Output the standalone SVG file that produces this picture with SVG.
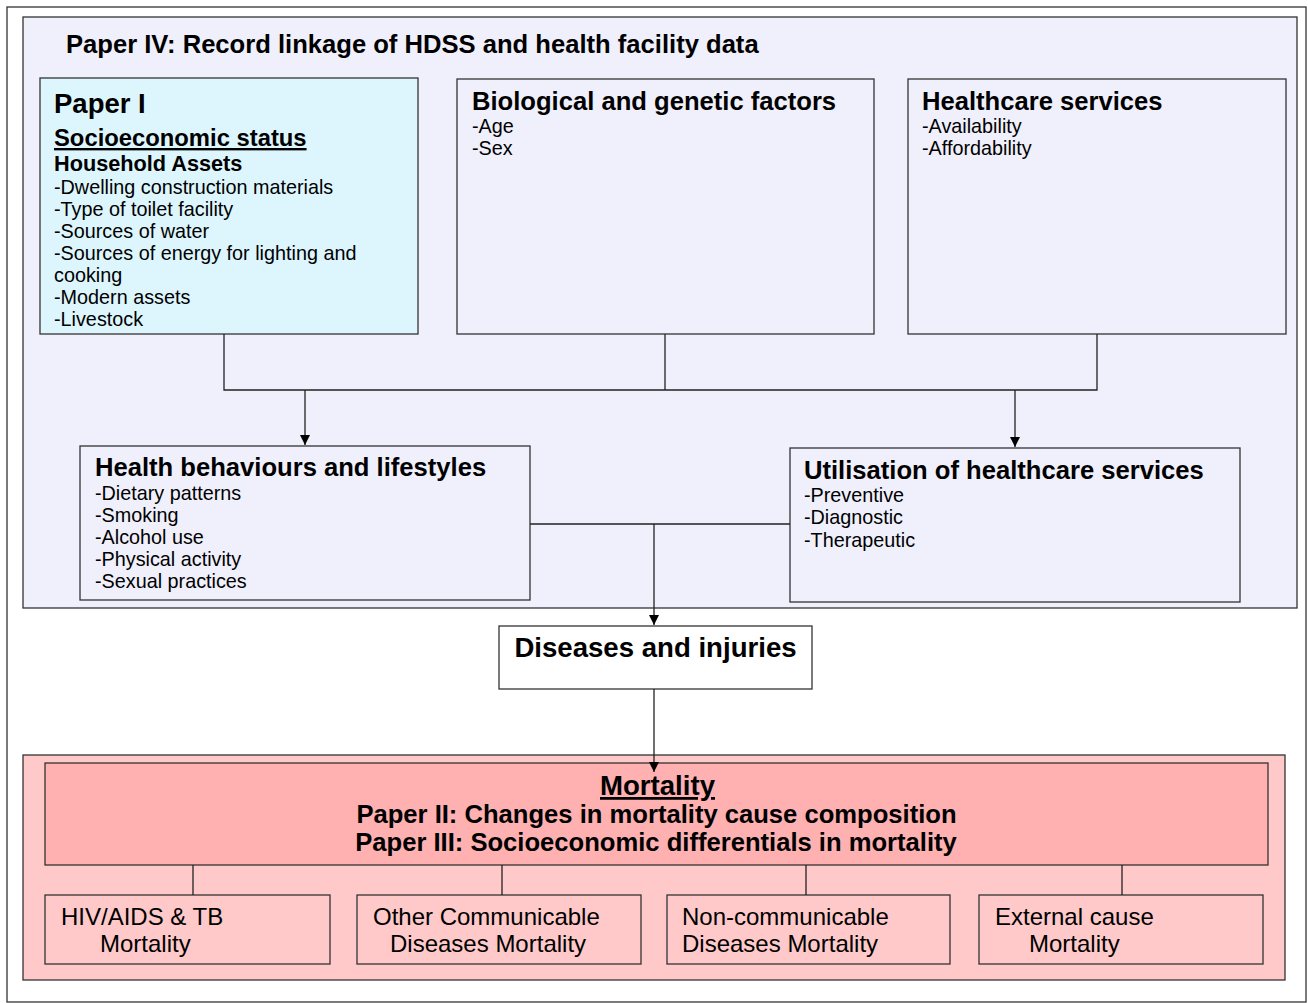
<svg xmlns="http://www.w3.org/2000/svg" width="1308" height="1003" viewBox="0 0 1308 1003">
<style>
.box{stroke:#333;stroke-width:1.3}
.t{font-family:"Liberation Sans",Arial,sans-serif;fill:#000}
.h{font-weight:bold;font-size:25.6px}
.b{font-size:19.8px}
.s{font-size:24px}
.c{fill:none;stroke:#222;stroke-width:1.3}
</style>
<defs>
<marker id="arr" viewBox="0 0 10 10" refX="10" refY="5" markerWidth="10" markerHeight="10" markerUnits="userSpaceOnUse" orient="auto">
<path d="M0,0 L10,5 L0,10 Z" fill="#000"/>
</marker>
</defs>
<rect x="0" y="0" width="1308" height="1003" fill="#fff"/>
<rect x="7" y="7" width="1299" height="995" fill="#fff" stroke="#333" stroke-width="1.3"/>

<g id="container-paper4">
<rect class="box" x="23" y="17" width="1274" height="591" fill="#F0F0FC"/>
<text class="t h" x="66" y="53">Paper IV: Record linkage of HDSS and health facility data</text>
</g>

<g id="node-paper1">
<rect class="box" x="40" y="78" width="378" height="256" fill="#DDF6FE"/>
<text class="t" x="54" y="113" font-weight="bold" font-size="27.5px">Paper I</text>
<text class="t" x="54" y="146" font-weight="bold" font-size="23.8px" text-decoration="underline">Socioeconomic status</text>
<text class="t" x="54" y="171" font-weight="bold" font-size="21.7px">Household Assets</text>
<text class="t b" x="54" y="194">-Dwelling construction materials</text>
<text class="t b" x="54" y="216">-Type of toilet facility</text>
<text class="t b" x="54" y="238">-Sources of water</text>
<text class="t b" x="54" y="260">-Sources of energy for lighting and</text>
<text class="t b" x="54" y="282">cooking</text>
<text class="t b" x="54" y="304">-Modern assets</text>
<text class="t b" x="54" y="326">-Livestock</text>
</g>

<g id="node-biological">
<rect class="box" x="457" y="79" width="417" height="255" fill="#F0F0FC"/>
<text class="t h" x="472" y="110">Biological and genetic factors</text>
<text class="t b" x="472" y="133">-Age</text>
<text class="t b" x="472" y="155">-Sex</text>
</g>

<g id="node-healthcare">
<rect class="box" x="908" y="79" width="378" height="255" fill="#F0F0FC"/>
<text class="t h" x="922" y="110">Healthcare services</text>
<text class="t b" x="922" y="133">-Availability</text>
<text class="t b" x="922" y="155">-Affordability</text>
</g>

<g id="node-behaviours">
<rect class="box" x="80" y="446" width="450" height="154" fill="#F0F0FC"/>
<text class="t h" x="95" y="476">Health behaviours and lifestyles</text>
<text class="t b" x="95" y="500">-Dietary patterns</text>
<text class="t b" x="95" y="522">-Smoking</text>
<text class="t b" x="95" y="544">-Alcohol use</text>
<text class="t b" x="95" y="566">-Physical activity</text>
<text class="t b" x="95" y="588">-Sexual practices</text>
</g>

<g id="node-utilisation">
<rect class="box" x="790" y="448" width="450" height="154" fill="#F0F0FC"/>
<text class="t h" x="804" y="479">Utilisation of healthcare services</text>
<text class="t b" x="804" y="502">-Preventive</text>
<text class="t b" x="804" y="524">-Diagnostic</text>
<text class="t b" x="804" y="547">-Therapeutic</text>
</g>

<g id="node-diseases">
<rect class="box" x="499" y="626" width="313" height="63" fill="#fff"/>
<text class="t" x="655.5" y="657" font-weight="bold" font-size="27.6px" text-anchor="middle">Diseases and injuries</text>
</g>

<g id="container-mortality">
<rect class="box" x="23" y="755" width="1262" height="225" fill="#FFC9C9"/>
</g>

<g id="node-mortality">
<rect class="box" x="45" y="763" width="1223" height="102" fill="#FFB0B0"/>
<text class="t" x="657.5" y="795" font-weight="bold" font-size="27.6px" text-anchor="middle" text-decoration="underline">Mortality</text>
<text class="t h" x="656.5" y="823" text-anchor="middle">Paper II: Changes in mortality cause composition</text>
<text class="t h" x="656" y="851" text-anchor="middle">Paper III: Socioeconomic differentials in mortality</text>
</g>

<g id="node-hiv">
<rect class="box" x="45" y="895" width="285" height="69" fill="#FFC9C9"/>
<text class="t s" x="61" y="925">HIV/AIDS &amp; TB</text>
<text class="t s" x="100" y="952">Mortality</text>
</g>

<g id="node-communicable">
<rect class="box" x="357" y="895" width="284" height="69" fill="#FFC9C9"/>
<text class="t s" x="373" y="925">Other Communicable</text>
<text class="t s" x="390" y="952">Diseases Mortality</text>
</g>

<g id="node-noncommunicable">
<rect class="box" x="667" y="895" width="283" height="69" fill="#FFC9C9"/>
<text class="t s" x="682" y="925">Non-communicable</text>
<text class="t s" x="682" y="952">Diseases Mortality</text>
</g>

<g id="node-external">
<rect class="box" x="979" y="895" width="284" height="69" fill="#FFC9C9"/>
<text class="t s" x="995" y="925">External cause</text>
<text class="t s" x="1029" y="952">Mortality</text>
</g>

<g id="connectors">
<path class="c" d="M224,334 V390 H1097 V334"/>
<path class="c" d="M665,334 V390"/>
<path class="c" d="M305,390 V445" marker-end="url(#arr)"/>
<path class="c" d="M1015,390 V447" marker-end="url(#arr)"/>
<path class="c" d="M530,524 H790"/>
<path class="c" d="M654,524 V625" marker-end="url(#arr)"/>
<path class="c" d="M654,689 V772" marker-end="url(#arr)"/>
<path class="c" d="M193,865 V895"/>
<path class="c" d="M502,865 V895"/>
<path class="c" d="M806,865 V895"/>
<path class="c" d="M1122,865 V895"/>
</g>
</svg>
